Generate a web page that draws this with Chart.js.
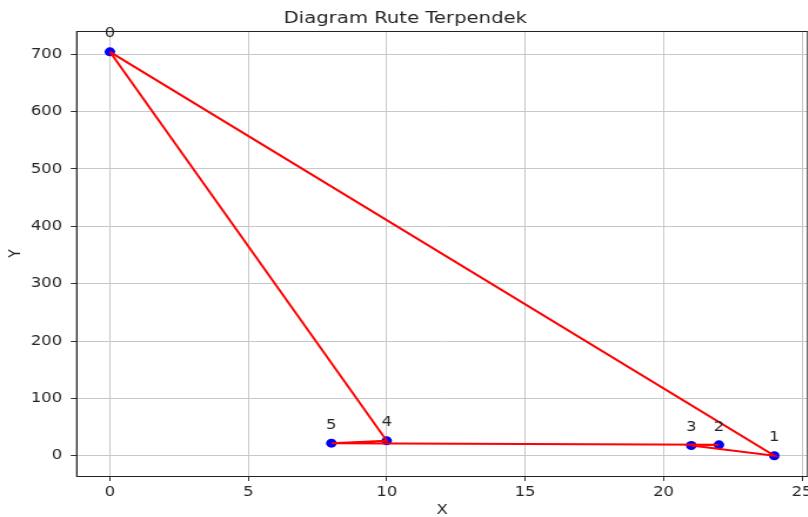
<!DOCTYPE html>
<html>
<head>
<meta charset="utf-8">
<script src="https://cdn.jsdelivr.net/npm/chart.js@4.4.1/dist/chart.umd.min.js"></script>
<style>
  html, body { margin: 0; padding: 0; overflow: hidden; background: #fff; }
  /* the reference is stretched sideways, so the chart is drawn narrower and widened */
  #wrap { width: 694px; height: 517px; transform: scaleX(1.1758); transform-origin: 0 0; }
  canvas { display: block; }
</style>
</head>
<body>
<div id="wrap"><canvas id="routeChart" width="694" height="517"></canvas></div>
<script>
// Route data
const nodeLabels = ['0', '1', '2', '3', '4', '5'];
const nodeX = [0, 24, 22, 21, 10, 8];
const nodeY = [704, 0, 19, 18, 26, 22];
const routeOrder = [0, 1, 3, 2, 5, 4, 0];

const xTicks = [0, 5, 10, 15, 20, 25];
const yTicks = [0, 100, 200, 300, 400, 500, 600, 700];

const FONT = 'DejaVu Sans';
const TEXT_COLOR = '#262626';

const points = nodeX.map((x, i) => ({ x: x, y: nodeY[i] }));
const route = routeOrder.map(i => ({ x: nodeX[i], y: nodeY[i] }));

// frame around the plot area, like matplotlib spines
const framePlugin = {
  id: 'frame',
  afterDraw(chart) {
    const a = chart.chartArea;
    const ctx = chart.ctx;
    ctx.save();
    ctx.strokeStyle = '#222';
    ctx.lineWidth = 1;
    ctx.strokeRect(a.left, Math.round(a.top) + 0.5, a.right - a.left, Math.round(a.bottom - a.top));
    ctx.restore();
  }
};

// node numbers above each point
const nodeLabelPlugin = {
  id: 'nodeLabels',
  afterDatasetsDraw(chart) {
    const ctx = chart.ctx;
    const xs = chart.scales.x;
    const ys = chart.scales.y;
    ctx.save();
    ctx.font = '14px "' + FONT + '"';
    ctx.fillStyle = TEXT_COLOR;
    ctx.textAlign = 'center';
    ctx.textBaseline = 'middle';
    nodeLabels.forEach((label, i) => {
      const px = xs.getPixelForValue(nodeX[i]);
      const py = ys.getPixelForValue(nodeY[i]);
      ctx.fillText(label, px, py - 18);
    });
    ctx.restore();
  }
};

const ctx = document.getElementById('routeChart').getContext('2d');

new Chart(ctx, {
  type: 'scatter',
  data: {
    datasets: [
      {
        label: 'Rute',
        data: route,
        showLine: true,
        borderColor: '#ff0000',
        borderWidth: 2,
        pointRadius: 0,
        pointHoverRadius: 0,
        fill: false,
        tension: 0,
        order: 0
      },
      {
        label: 'Titik',
        data: points,
        backgroundColor: '#0000ff',
        borderColor: '#0000ff',
        pointRadius: 4.5,
        pointBorderWidth: 0,
        order: 1
      }
    ]
  },
  options: {
    responsive: false,
    animation: false,
    layout: {
      padding: { left: 0, right: 4.6, top: 0, bottom: 0 }
    },
    plugins: {
      legend: { display: false },
      tooltip: { enabled: false },
      title: {
        display: true,
        text: 'Diagram Rute Terpendek',
        color: TEXT_COLOR,
        font: { family: FONT, size: 16.7, weight: 'normal', lineHeight: 1.2 },
        padding: { top: 9, bottom: 2 }
      }
    },
    scales: {
      x: {
        type: 'linear',
        min: -1.2,
        max: 25.2,
        afterBuildTicks: scale => { scale.ticks = xTicks.map(v => ({ value: v })); },
        afterFit: scale => { scale.height = 41; },
        ticks: {
          color: TEXT_COLOR,
          font: { family: FONT, size: 14 },
          padding: 3,
          maxRotation: 0
        },
        grid: {
          color: '#c8c8c8',
          lineWidth: 1,
          tickColor: '#333',
          tickLength: 5
        },
        border: { display: true, color: '#222', width: 1 },
        title: {
          display: true,
          text: 'X',
          color: TEXT_COLOR,
          font: { family: FONT, size: 14, lineHeight: 1 },
          padding: { top: 0, bottom: 0 }
        }
      },
      y: {
        type: 'linear',
        min: -35.25,
        max: 740.25,
        afterBuildTicks: scale => { scale.ticks = yTicks.map(v => ({ value: v })); },
        afterFit: scale => { scale.width = 65.2; },
        ticks: {
          color: TEXT_COLOR,
          font: { family: FONT, size: 14 },
          padding: 7.3
        },
        grid: {
          color: '#c8c8c8',
          lineWidth: 1,
          tickColor: '#333',
          tickLength: 5
        },
        border: { display: true, color: '#222', width: 1 },
        title: {
          display: true,
          text: 'Y',
          color: TEXT_COLOR,
          font: { family: FONT, size: 14, lineHeight: 1 },
          padding: { top: 6, bottom: 0 }
        }
      }
    }
  },
  plugins: [framePlugin, nodeLabelPlugin]
});
</script>
</body>
</html>
